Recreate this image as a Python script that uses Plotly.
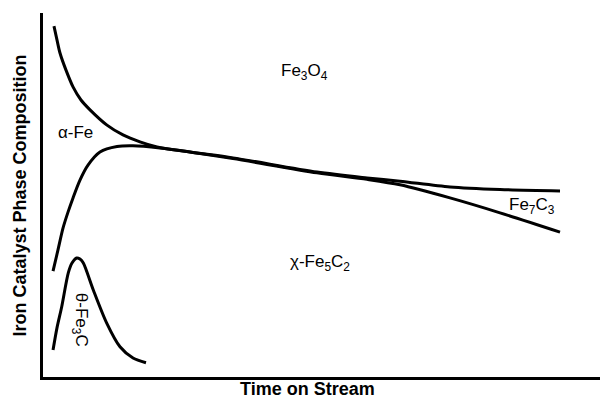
import plotly.graph_objects as go

# Fe3O4 upper boundary
fe3o4_x = [1.97, 2.51, 3.05, 4.13, 5.39, 6.82, 8.44, 11.49, 14.36, 17.41, 20.47, 26.39, 34.11, 49.19, 58.17, 64.09, 73.07, 82.05, 92.82]
fe3o4_y = [96.4, 92.6, 89.0, 84.3, 79.7, 76.1, 73.4, 69.2, 66.5, 64.6, 63.2, 61.8, 60.2, 56.3, 54.7, 53.8, 52.2, 51.5, 51.1]

# alpha-Fe / chi-Fe5C2 boundary
alpha_x = [1.80, 2.69, 3.59, 4.49, 5.39, 6.64, 8.08, 10.23, 13.29, 16.16, 21.0, 26.39, 34.11, 49.19, 58.17, 64.09, 73.07, 82.05, 92.82]
alpha_y = [29.1, 34.9, 40.9, 45.3, 49.2, 54.1, 58.2, 61.8, 63.3, 63.5, 62.9, 61.8, 60.0, 56.1, 54.3, 52.8, 49.2, 45.1, 39.8]

# theta-Fe3C transient
theta_x = [1.80, 2.51, 3.36, 4.54, 5.21, 6.05, 6.64, 7.24, 9.03, 11.44, 13.82, 16.16, 18.49]
theta_y = [7.4, 13.5, 19.3, 28.6, 31.3, 32.7, 32.4, 31.3, 23.9, 14.8, 8.3, 5.2, 3.9]

labels = ["Fe<sub>3</sub>O<sub>4</sub>", "\u03b1-Fe", "Fe<sub>7</sub>C<sub>3</sub>",
          "\u03c7-Fe<sub>5</sub>C<sub>2</sub>", "\u03b8-Fe<sub>3</sub>C"]
label_x = [46.86, 5.75, 87.79, 49.73, 6.64]
label_y = [83.8, 67.3, 47.0, 31.3, 15.7]
label_angle = [0, 0, 0, 0, 90]

x_title = "Time on Stream"
y_title = "Iron Catalyst Phase Composition"

fig = go.Figure()
line_style = dict(color="black", width=3, shape="spline", smoothing=0.8)
for xs, ys, name in [(fe3o4_x, fe3o4_y, "Fe3O4"), (alpha_x, alpha_y, "alpha-Fe"), (theta_x, theta_y, "theta-Fe3C")]:
    fig.add_trace(go.Scatter(x=xs, y=ys, mode="lines", line=line_style, name=name,
                             showlegend=False, hoverinfo="skip"))

font_family = "Liberation Sans, Arial"
for t, x, y, a in zip(labels, label_x, label_y, label_angle):
    fig.add_annotation(x=x, y=y, text=t, showarrow=False, textangle=a,
                       font=dict(family=font_family, size=17, color="black"),
                       xanchor="center", yanchor="middle")

# axis titles
fig.add_annotation(x=0.474, y=-0.032, xref="paper", yref="paper", text="<b>" + x_title + "</b>",
                   showarrow=False, xanchor="center", yanchor="middle",
                   font=dict(family=font_family, size=18, color="black"))
fig.add_annotation(x=-0.0413, y=0.4986, xref="paper", yref="paper", text="<b>" + y_title + "</b>",
                   showarrow=False, xanchor="center", yanchor="middle", textangle=-90,
                   font=dict(family=font_family, size=18, color="black"))

fig.update_layout(
    width=600, height=397,
    margin=dict(l=43, r=0, t=13, b=20),
    paper_bgcolor="white", plot_bgcolor="white",
    font=dict(family=font_family, color="black"),
    xaxis=dict(range=[0, 100], showgrid=False, zeroline=False, showticklabels=False,
               ticks="", showline=True, linecolor="black", linewidth=3, automargin=False),
    yaxis=dict(range=[0, 100], showgrid=False, zeroline=False, showticklabels=False,
               ticks="", showline=True, linecolor="black", linewidth=3, automargin=False),
)

fig.write_html("out.html", config={"displayModeBar": False},
               post_script="document.body.style.margin='0';document.body.style.overflow='hidden';")
